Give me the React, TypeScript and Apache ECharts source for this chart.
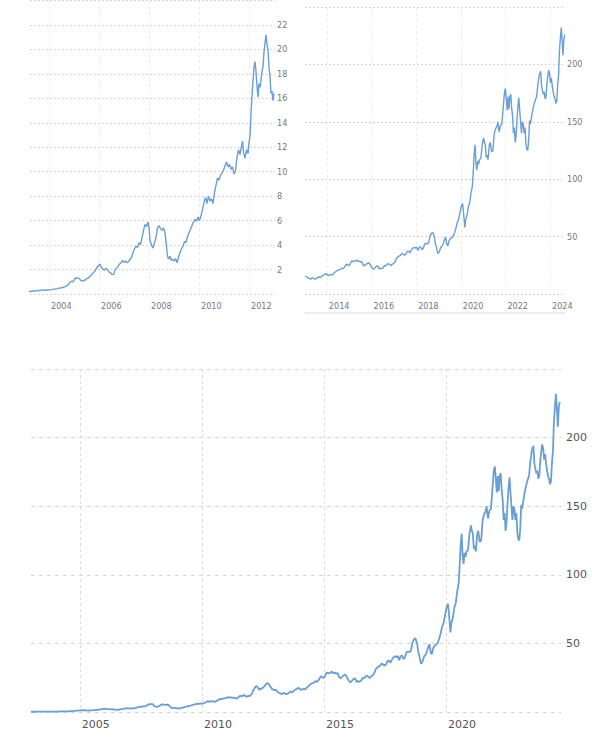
import React, { useEffect, useRef } from "react";
import * as echarts from "echarts";

// ---- data (decimal years, price) ----
const yearsEarly = [
  2003.0, 2003.08, 2003.16, 2003.24, 2003.3, 2003.38, 2003.46, 2003.54, 2003.62, 2003.7, 2003.78, 2003.86, 2003.94,
  2004.02, 2004.1, 2004.18, 2004.26, 2004.34, 2004.42, 2004.5, 2004.58, 2004.66, 2004.72, 2004.78, 2004.84, 2004.9, 2004.96,
  2005.02, 2005.08, 2005.14, 2005.2, 2005.26, 2005.32, 2005.38, 2005.44, 2005.5, 2005.56, 2005.62, 2005.68, 2005.74, 2005.8, 2005.86, 2005.92, 2005.98,
  2006.04, 2006.1, 2006.16, 2006.22, 2006.28, 2006.34, 2006.4, 2006.46, 2006.52, 2006.58, 2006.64, 2006.7, 2006.76, 2006.82, 2006.88, 2006.94,
  2007.0, 2007.06, 2007.12, 2007.18, 2007.24, 2007.3, 2007.36, 2007.42, 2007.48, 2007.54, 2007.6, 2007.66, 2007.72, 2007.78, 2007.84, 2007.9, 2007.96,
  2008.0, 2008.04, 2008.1, 2008.16, 2008.22, 2008.28, 2008.34, 2008.4, 2008.46, 2008.52, 2008.58, 2008.64, 2008.7, 2008.74, 2008.78, 2008.84, 2008.88, 2008.94,
  2009.0, 2009.06, 2009.12, 2009.18, 2009.24, 2009.3, 2009.36, 2009.42, 2009.48, 2009.54, 2009.6, 2009.66, 2009.72, 2009.78, 2009.84, 2009.9, 2009.96,
  2010.02, 2010.08, 2010.14, 2010.2, 2010.26, 2010.32, 2010.38, 2010.44, 2010.5, 2010.56, 2010.62, 2010.68, 2010.74, 2010.8, 2010.86, 2010.92, 2010.98,
  2011.04, 2011.1, 2011.16, 2011.22, 2011.28, 2011.34, 2011.4, 2011.46, 2011.52, 2011.58, 2011.64, 2011.7, 2011.74, 2011.78, 2011.84, 2011.9, 2011.96,
  2012.0, 2012.04, 2012.08, 2012.12, 2012.16, 2012.2, 2012.24, 2012.28, 2012.32, 2012.36, 2012.4, 2012.44, 2012.48, 2012.52, 2012.56, 2012.6, 2012.64,
  2012.68, 2012.72, 2012.76, 2012.8, 2012.84, 2012.88, 2012.92, 2012.96, 2013.0,
];
const pricesEarly = [
  0.2, 0.19, 0.2, 0.21, 0.22, 0.24, 0.25, 0.3, 0.29, 0.32, 0.33, 0.31, 0.33,
  0.34, 0.36, 0.4, 0.41, 0.44, 0.49, 0.5, 0.55, 0.62, 0.68, 0.8, 0.94, 1.05, 1.0,
  1.2, 1.35, 1.28, 1.3, 1.15, 1.05, 1.1, 1.12, 1.25, 1.3, 1.4, 1.55, 1.65, 1.8, 1.95, 2.2, 2.3,
  2.45, 2.15, 2.05, 1.95, 2.1, 2.0, 1.8, 1.75, 1.6, 1.58, 1.95, 2.1, 2.25, 2.45, 2.55, 2.75,
  2.6, 2.7, 2.55, 2.65, 2.85, 2.95, 3.4, 3.7, 3.9, 3.8, 4.2, 4.05, 4.6, 5.2, 5.7, 5.5, 5.9,
  5.4, 4.4, 4.0, 3.75, 4.2, 4.6, 5.4, 5.6, 5.35, 5.2, 5.4, 5.0, 3.9, 3.1, 2.85, 3.1, 2.75, 2.85,
  2.7, 2.9, 2.55, 3.0, 3.4, 3.7, 3.9, 4.3, 4.2, 4.7, 5.0, 5.3, 5.6, 5.9, 6.1, 5.95, 6.3,
  6.0, 6.4, 6.9, 7.5, 7.9, 7.4, 8.0, 7.6, 7.8, 7.4, 8.3, 8.9, 9.5, 9.3, 9.7, 9.9, 10.1,
  10.5, 10.8, 10.4, 10.6, 10.2, 10.4, 9.8, 10.1, 11.2, 11.8, 11.4, 12.1, 12.5, 11.6, 11.1, 11.8, 11.5,
  12.4, 12.9, 14.8, 16.2, 17.4, 18.6, 19.0, 18.2, 17.0, 16.1, 17.2, 16.9, 17.5, 18.2, 18.6, 19.8, 20.5,
  21.2, 20.4, 20.0, 18.5, 17.8, 16.4, 16.6, 15.8, 16.4,
];
const yearsLate = [
  2013.04, 2013.1, 2013.16, 2013.22, 2013.28, 2013.34, 2013.4, 2013.46, 2013.52, 2013.58, 2013.64, 2013.7, 2013.76, 2013.82, 2013.88, 2013.94,
  2014.0, 2014.06, 2014.12, 2014.18, 2014.24, 2014.3, 2014.36, 2014.42, 2014.48, 2014.54, 2014.6, 2014.66, 2014.72, 2014.78, 2014.84, 2014.9, 2014.96,
  2015.02, 2015.08, 2015.14, 2015.2, 2015.26, 2015.32, 2015.38, 2015.44, 2015.5, 2015.56, 2015.62, 2015.68, 2015.74, 2015.8, 2015.86, 2015.92, 2015.98,
  2016.04, 2016.1, 2016.16, 2016.22, 2016.28, 2016.34, 2016.4, 2016.46, 2016.52, 2016.58, 2016.64, 2016.7, 2016.76, 2016.82, 2016.88, 2016.94,
  2017.0, 2017.06, 2017.12, 2017.18, 2017.24, 2017.3, 2017.36, 2017.42, 2017.48, 2017.54, 2017.6, 2017.66, 2017.72, 2017.78, 2017.84, 2017.9, 2017.96,
  2018.02, 2018.08, 2018.14, 2018.2, 2018.26, 2018.32, 2018.38, 2018.44, 2018.5, 2018.56, 2018.62, 2018.68, 2018.74, 2018.78, 2018.82, 2018.86, 2018.9, 2018.94, 2018.98,
  2019.04, 2019.1, 2019.16, 2019.22, 2019.28, 2019.32, 2019.38, 2019.42, 2019.48, 2019.54, 2019.6, 2019.66, 2019.72, 2019.78, 2019.84, 2019.9, 2019.96,
  2020.02, 2020.08, 2020.12, 2020.18, 2020.22, 2020.28, 2020.34, 2020.4, 2020.46, 2020.52, 2020.56, 2020.6, 2020.64, 2020.68, 2020.72, 2020.76, 2020.8, 2020.84, 2020.9, 2020.96,
  2021.02, 2021.06, 2021.1, 2021.14, 2021.18, 2021.22, 2021.28, 2021.32, 2021.38, 2021.44, 2021.5, 2021.56, 2021.62, 2021.66, 2021.72, 2021.78, 2021.84, 2021.9, 2021.96,
  2022.0, 2022.04, 2022.08, 2022.12, 2022.16, 2022.2, 2022.24, 2022.28, 2022.32, 2022.36, 2022.4, 2022.44, 2022.48, 2022.52, 2022.56, 2022.6, 2022.64, 2022.68, 2022.72, 2022.76, 2022.8, 2022.84, 2022.88, 2022.92, 2022.96,
  2023.0, 2023.04, 2023.08, 2023.12, 2023.16, 2023.22, 2023.28, 2023.34, 2023.4, 2023.44, 2023.48, 2023.52, 2023.58, 2023.62, 2023.66, 2023.7, 2023.74, 2023.78, 2023.82, 2023.86, 2023.9, 2023.94, 2023.98,
  2024.02, 2024.06, 2024.1, 2024.14, 2024.18, 2024.22, 2024.26, 2024.3, 2024.34, 2024.38, 2024.42, 2024.46, 2024.5, 2024.54, 2024.58, 2024.62, 2024.66,
];
const pricesLate = [
  15.9, 14.8, 13.9, 13.6, 12.9, 14.0, 13.6, 12.9, 13.4, 14.2, 15.0, 14.3, 15.2, 16.3, 16.6, 17.6,
  17.2, 16.0, 16.6, 16.9, 16.4, 17.8, 18.9, 19.8, 20.6, 21.2, 21.5, 22.5, 22.0, 23.2, 25.0, 26.1, 24.8,
  25.2, 27.8, 28.9, 28.1, 28.6, 29.5, 28.4, 28.8, 27.9, 28.4, 25.4, 24.5, 25.6, 26.4, 27.5, 26.2, 24.0,
  22.1, 21.8, 23.0, 24.2, 24.5, 21.9, 22.5, 22.0, 22.8, 24.8, 24.6, 25.8, 26.5, 25.4, 24.9, 26.1,
  26.8, 28.2, 31.2, 32.4, 33.1, 33.6, 35.4, 34.6, 33.8, 34.6, 37.1, 37.6, 35.9, 38.0, 39.8, 40.6, 39.9,
  40.9, 37.8, 40.6, 41.2, 38.5, 39.9, 43.5, 44.0, 43.8, 44.5, 50.2, 52.6, 53.8, 52.0, 49.5, 44.0, 41.5, 37.8, 35.2,
  36.9, 40.5, 41.6, 44.0, 48.0, 49.4, 43.2, 42.0, 46.8, 48.5, 49.0, 50.5, 53.4, 57.2, 62.1, 64.8, 70.4,
  76.0, 78.9, 72.0, 58.0, 65.0, 68.5, 76.0, 79.5, 88.0, 94.0, 107.0, 122.0, 130.0, 114.0, 108.0, 116.0, 113.0, 117.0, 118.0, 130.0,
  136.0, 132.0, 130.0, 119.0, 121.0, 117.0, 130.0, 132.0, 124.0, 125.0, 140.0, 144.0, 146.0, 150.0, 141.0, 147.0, 148.0, 162.0, 176.0,
  179.0, 170.0, 160.0, 172.0, 161.0, 172.0, 174.0, 162.0, 155.0, 140.0, 145.0, 132.0, 138.0, 152.0, 163.0, 171.0, 160.0, 150.0, 140.0, 150.0, 148.0, 140.0, 145.0, 131.0, 126.0,
  125.0, 133.0, 151.0, 148.0, 153.0, 160.0, 165.0, 169.0, 172.0, 180.0, 186.0, 191.0, 194.0, 181.0, 177.0, 174.0, 176.0, 170.0, 172.0, 183.0, 190.0, 195.0, 192.0,
  184.0, 188.0, 181.0, 176.0, 172.0, 170.0, 166.0, 168.0, 182.0, 190.0, 212.0, 222.0, 232.0, 222.0, 208.0, 222.0, 226.0,
];

const topLeftYearTicks = [2004, 2006, 2008, 2010, 2012];
const topRightYearTicks = [2014, 2016, 2018, 2020, 2022, 2024];
const bottomYearTicks = [2005, 2010, 2015, 2020];

const pairs = (xs: number[], ys: number[]) => xs.map((x, i) => [x, ys[i]]);

const LINE = "#6a9fd6";
const SMALL_FONT = "'Liberation Sans Narrow', 'Arial Narrow', 'DejaVu Sans Condensed', 'Liberation Sans', sans-serif";
const BIG_FONT = "'DejaVu Sans', Verdana, sans-serif";

export default function App() {
  const ref = useRef<HTMLDivElement>(null);
  useEffect(() => {
    if (!ref.current) return;
    const chart = echarts.init(ref.current, undefined, { renderer: "svg" });
    const smallLabel = { fontSize: 9, color: "#777", fontFamily: SMALL_FONT };
    const bigLabel = { fontSize: 11, color: "#555", fontFamily: BIG_FONT };
    const yearFmt = (v: number) => String(Math.round(v));
    const xAxisBase = (grid: number, min: number, max: number, ticks: number[], label: any, vColor: string, margin: number) => ({
      type: "value",
      gridIndex: grid,
      min,
      max,
      axisLine: { show: false },
      axisTick: { show: false, customValues: ticks },
      axisLabel: { ...label, customValues: ticks, formatter: yearFmt, align: "left", padding: [0, 0, 0, 2], margin },
      splitLine: { show: true, lineStyle: { color: vColor, type: [3, 3], width: 1 } },
    });
    const yAxisBase = (grid: number, max: number, interval: number, label: any, hColor: string, dash: number[], margin: number) => ({
      type: "value",
      gridIndex: grid,
      position: "right",
      min: 0,
      max,
      interval,
      axisLine: { show: false },
      axisTick: { show: false },
      axisLabel: { ...label, margin, showMinLabel: false, showMaxLabel: false },
      splitLine: { show: true, lineStyle: { color: hColor, type: dash, width: 1 } },
    });
    chart.setOption({
      animation: false,
      backgroundColor: "#ffffff",
      grid: [
        { left: 30, right: 323, top: 0.5, bottom: 456 },
        { left: 305, right: 33, top: 7, bottom: 456 },
        { left: 31, right: 37, top: 369, bottom: 38 },
      ],
      xAxis: [
        xAxisBase(0, 2003.24, 2013.04, topLeftYearTicks, smallLabel, "#ececec", 7),
        xAxisBase(1, 2013.02, 2024.67, topRightYearTicks, smallLabel, "#ececec", 7),
        xAxisBase(2, 2003.0, 2024.71, bottomYearTicks, bigLabel, "#dcdcdc", 7),
        {
          type: "value",
          gridIndex: 1,
          min: 2013.02,
          max: 2024.67,
          position: "bottom",
          offset: 19,
          axisLine: { show: true, lineStyle: { color: "#e6e6e6", width: 1.5 } },
          axisTick: { show: false },
          axisLabel: { show: false },
          splitLine: { show: false },
        },
      ],
      yAxis: [
        yAxisBase(0, 24, 2, smallLabel, "#d6d6d6", [2, 2], 2),
        yAxisBase(1, 250, 50, smallLabel, "#d6d6d6", [2, 2], 2),
        yAxisBase(2, 250, 50, bigLabel, "#d4d4d4", [4, 4], 5),
      ],
      series: [
        {
          type: "line",
          xAxisIndex: 0,
          yAxisIndex: 0,
          data: pairs(yearsEarly, pricesEarly),
          showSymbol: false,
          symbol: "none",
          lineStyle: { color: LINE, width: 1.4 },
          clip: true,
        },
        {
          type: "line",
          xAxisIndex: 1,
          yAxisIndex: 1,
          data: pairs(yearsLate, pricesLate),
          showSymbol: false,
          symbol: "none",
          lineStyle: { color: LINE, width: 1.4 },
          clip: true,
        },
        {
          type: "line",
          xAxisIndex: 2,
          yAxisIndex: 2,
          data: pairs(yearsEarly, pricesEarly).concat(pairs(yearsLate, pricesLate)),
          showSymbol: false,
          symbol: "none",
          lineStyle: { color: LINE, width: 1.8 },
          clip: true,
        },
      ],
    });
    return () => chart.dispose();
  }, []);
  return <div ref={ref} style={{ position: "absolute", left: 0, top: 0, width: 598, height: 750 }} />;
}
